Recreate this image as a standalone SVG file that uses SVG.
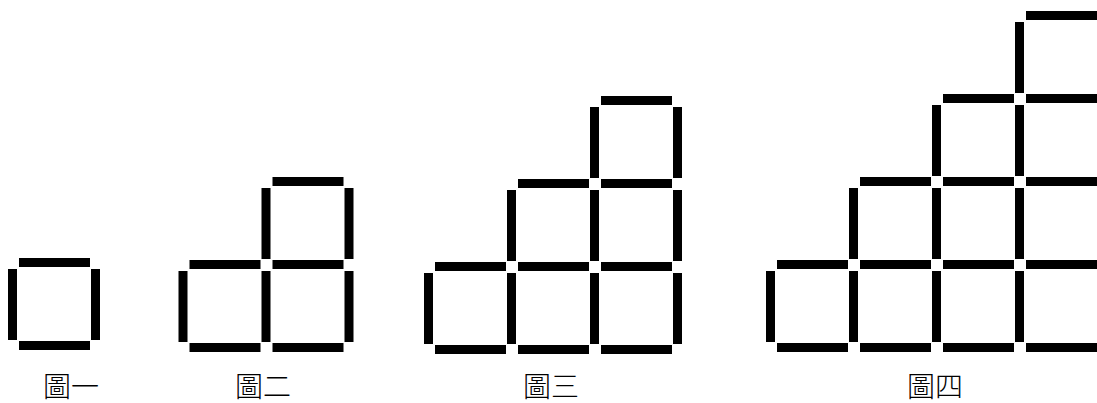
<svg xmlns="http://www.w3.org/2000/svg" xmlns:xlink="http://www.w3.org/1999/xlink" width="1097" height="403" viewBox="0 0 1097 403">
<style>
  .bar { fill: #000; }
  .lbl { font-family: "Noto Sans CJK TC", "Noto Sans CJK SC", sans-serif; font-size: 28px; fill: #000; text-anchor: middle; font-weight: 300; }
</style>
<defs>
  <rect id="h" class="bar" x="11" y="0" width="71" height="9"/>
  <rect id="v" class="bar" x="0" y="11" width="9" height="71"/>
</defs>
<rect width="1097" height="403" fill="#fff"/>

<g id="fig1">
  <use href="#h" x="8" y="258"/>
  <use href="#h" x="8" y="341"/>
  <use href="#v" x="8" y="258"/>
  <use href="#v" x="91" y="258"/>
</g>

<g id="fig2">
  <use href="#h" x="261.5" y="177"/>
  <use href="#h" x="261.5" y="260"/>
  <use href="#h" x="178.5" y="260"/>
  <use href="#h" x="178.5" y="343"/>
  <use href="#h" x="261.5" y="343"/>
  <use href="#v" x="261.5" y="177"/>
  <use href="#v" x="344.5" y="177"/>
  <use href="#v" x="178.5" y="260"/>
  <use href="#v" x="261.5" y="260"/>
  <use href="#v" x="344.5" y="260"/>
</g>

<g id="fig3">
  <use href="#h" x="590" y="96"/>
  <use href="#h" x="507" y="179"/>
  <use href="#h" x="590" y="179"/>
  <use href="#h" x="424" y="262"/>
  <use href="#h" x="507" y="262"/>
  <use href="#h" x="590" y="262"/>
  <use href="#h" x="424" y="345"/>
  <use href="#h" x="507" y="345"/>
  <use href="#h" x="590" y="345"/>
  <use href="#v" x="590" y="96"/>
  <use href="#v" x="673" y="96"/>
  <use href="#v" x="507" y="179"/>
  <use href="#v" x="590" y="179"/>
  <use href="#v" x="673" y="179"/>
  <use href="#v" x="424" y="262"/>
  <use href="#v" x="507" y="262"/>
  <use href="#v" x="590" y="262"/>
  <use href="#v" x="673" y="262"/>
</g>

<g id="fig4">
  <use href="#h" x="1015" y="11"/>
  <use href="#h" x="932" y="94"/>
  <use href="#h" x="1015" y="94"/>
  <use href="#h" x="849" y="177"/>
  <use href="#h" x="932" y="177"/>
  <use href="#h" x="1015" y="177"/>
  <use href="#h" x="766" y="260"/>
  <use href="#h" x="849" y="260"/>
  <use href="#h" x="932" y="260"/>
  <use href="#h" x="1015" y="260"/>
  <use href="#h" x="766" y="343"/>
  <use href="#h" x="849" y="343"/>
  <use href="#h" x="932" y="343"/>
  <use href="#h" x="1015" y="343"/>
  <use href="#v" x="1015" y="11"/>
  <use href="#v" x="932" y="94"/>
  <use href="#v" x="1015" y="94"/>
  <use href="#v" x="849" y="177"/>
  <use href="#v" x="932" y="177"/>
  <use href="#v" x="1015" y="177"/>
  <use href="#v" x="766" y="260"/>
  <use href="#v" x="849" y="260"/>
  <use href="#v" x="932" y="260"/>
  <use href="#v" x="1015" y="260"/>
</g>

<g id="labels">
  <text class="lbl" x="71" y="397">圖一</text>
  <text class="lbl" x="263" y="397">圖二</text>
  <text class="lbl" x="551" y="397">圖三</text>
  <text class="lbl" x="935" y="397">圖四</text>
</g>
</svg>
